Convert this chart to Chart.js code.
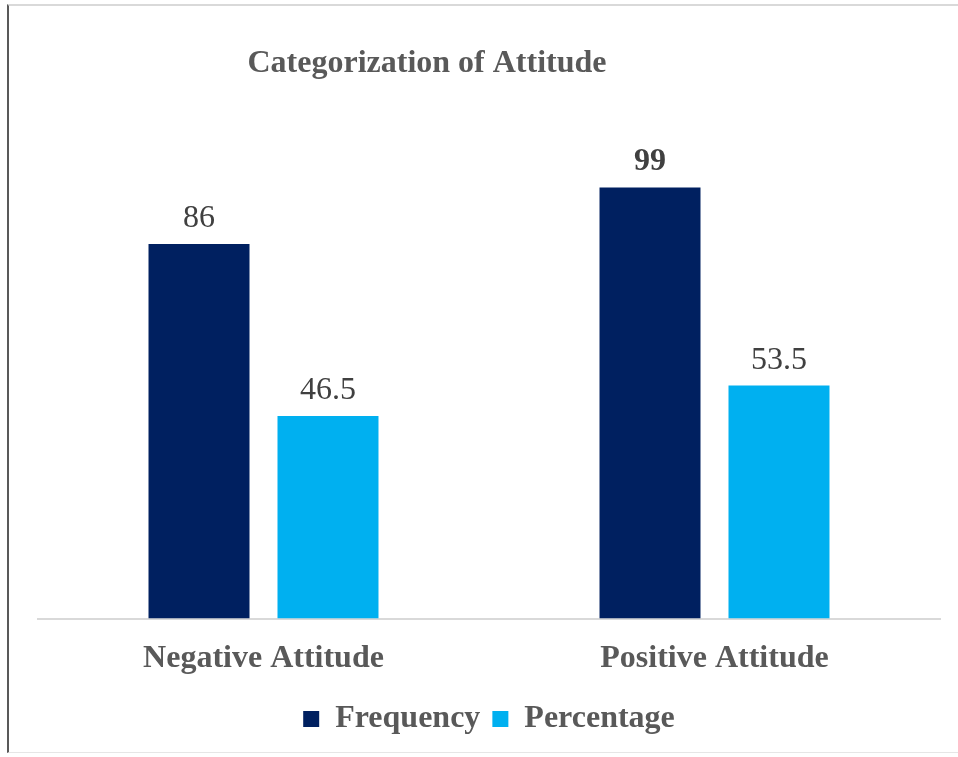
<!DOCTYPE html>
<html>
<head>
<meta charset="utf-8">
<script src="https://cdn.jsdelivr.net/npm/chart.js@4"></script>
<style>
  html, body { margin: 0; padding: 0; background: #fff; }
  #wrap {
    position: absolute; left: 7px; top: 4px; width: 951px; height: 749px;
    border-top: 2px solid #d9d9d9; border-left: 2px solid #595959;
    border-bottom: 1px solid #e6e6e6; box-sizing: border-box;
  }
  #attitudeChart { position: absolute; left: 0; top: 0; }
</style>
</head>
<body>
<div id="wrap"></div>
<canvas id="attitudeChart" width="958" height="757"></canvas>
<script>
const categories = ["Negative Attitude", "Positive Attitude"];
const frequency = [86, 99];
const percentage = [46.5, 53.5];
const chartTitle = "Categorization of Attitude";

const serif = "'Liberation Serif', 'Times New Roman', serif";
const textGray = "#595959";

// draws the title (sits left of centre in the original) and the value labels
const labelsPlugin = {
  id: "labels",
  afterDatasetsDraw(chart) {
    const c = chart.ctx;
    c.save();
    c.textAlign = "center";
    c.textBaseline = "alphabetic";
    chart.data.datasets.forEach((ds, i) => {
      chart.getDatasetMeta(i).data.forEach((bar, j) => {
        const v = ds.data[j];
        const bold = v === Math.max(...frequency);
        c.font = (bold ? "bold " : "") + "32px " + serif;
        c.fillStyle = "#404040";
        c.fillText(String(v), bar.x, bar.y - 17);
      });
    });
    c.font = "bold 32px " + serif;
    c.fillStyle = textGray;
    c.fillText(chartTitle, 427, 72);
    c.restore();
  },
};

const ctx = document.getElementById("attitudeChart").getContext("2d");
const attitudeChart = new Chart(ctx, {
  type: "bar",
  data: {
    labels: categories,
    datasets: [
      {
        label: "Frequency",
        data: frequency,
        backgroundColor: "#002060",
        categoryPercentage: 0.572,
        barPercentage: 0.783,
      },
      {
        label: "Percentage",
        data: percentage,
        backgroundColor: "#00b0f0",
        categoryPercentage: 0.572,
        barPercentage: 0.783,
      },
    ],
  },
  options: {
    responsive: false,
    animation: false,
    layout: {
      padding: { left: 38, right: 18, top: 96, bottom: 12 },
    },
    plugins: {
      title: { display: false },
      tooltip: { enabled: false },
      legend: {
        position: "bottom",
        labels: {
          boxWidth: 16,
          boxHeight: 16,
          padding: 12,
          color: textGray,
          font: { family: serif, size: 32, weight: "bold" },
        },
      },
    },
    scales: {
      y: {
        display: false,
        min: 0,
        max: 120,
      },
      x: {
        grid: { display: false },
        border: { color: "#d9d9d9", width: 2 },
        ticks: {
          color: textGray,
          padding: 13,
          font: { family: serif, size: 32, weight: "bold" },
        },
      },
    },
  },
  plugins: [labelsPlugin],
});
</script>
</body>
</html>
